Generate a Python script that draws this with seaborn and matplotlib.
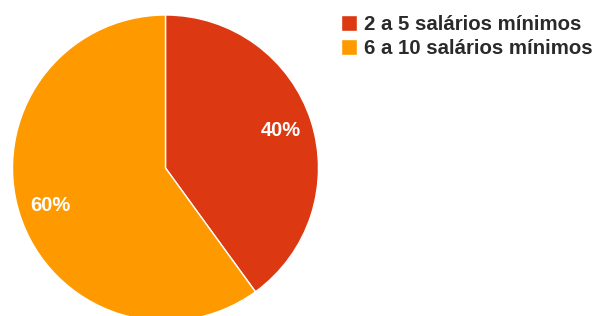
import matplotlib
matplotlib.use("Agg")
import matplotlib.pyplot as plt
import seaborn as sns

# data
faixas = ["2 a 5 salários mínimos", "6 a 10 salários mínimos"]
percentuais = [40, 60]
cores = ["#DC3912", "#FF9900"]

sns.set_theme(style="white")
plt.rcParams["font.family"] = ["Liberation Sans", "DejaVu Sans"]
palette = sns.color_palette(cores)

W, H = 593, 316
fig = plt.figure(figsize=(W / 100, H / 100), dpi=100)

# pie axes in pixel coords (centre ~ (165, 168), radius ~153)
cx, cy, r = 165.5, 168, 153
ax = fig.add_axes([(cx - r) / W, (H - cy - r) / H, 2 * r / W, 2 * r / H])

wedges, texts, autotexts = ax.pie(
    percentuais,
    colors=palette,
    startangle=90,
    counterclock=False,
    radius=1,
    autopct="%d%%",
    pctdistance=0.79,
    wedgeprops=dict(edgecolor="white", linewidth=1),
    textprops=dict(color="white", fontsize=14.5, fontweight="bold"),
)
ax.set_xlim(-1, 1)
ax.set_ylim(-1, 1)
ax.set_aspect("auto")
ax.axis("off")

fig.legend(
    wedges, faixas,
    loc="upper left",
    bbox_to_anchor=(335 / W, 1 - 9 / H),
    frameon=False,
    handlelength=0.8,
    handleheight=0.8,
    handletextpad=0.3,
    labelspacing=0.25,
    borderaxespad=0,
    borderpad=0.3,
    prop=dict(size=14.7, weight="bold"),
    labelcolor="#2a2a2a",
)

fig.savefig("out.png", dpi=100)
